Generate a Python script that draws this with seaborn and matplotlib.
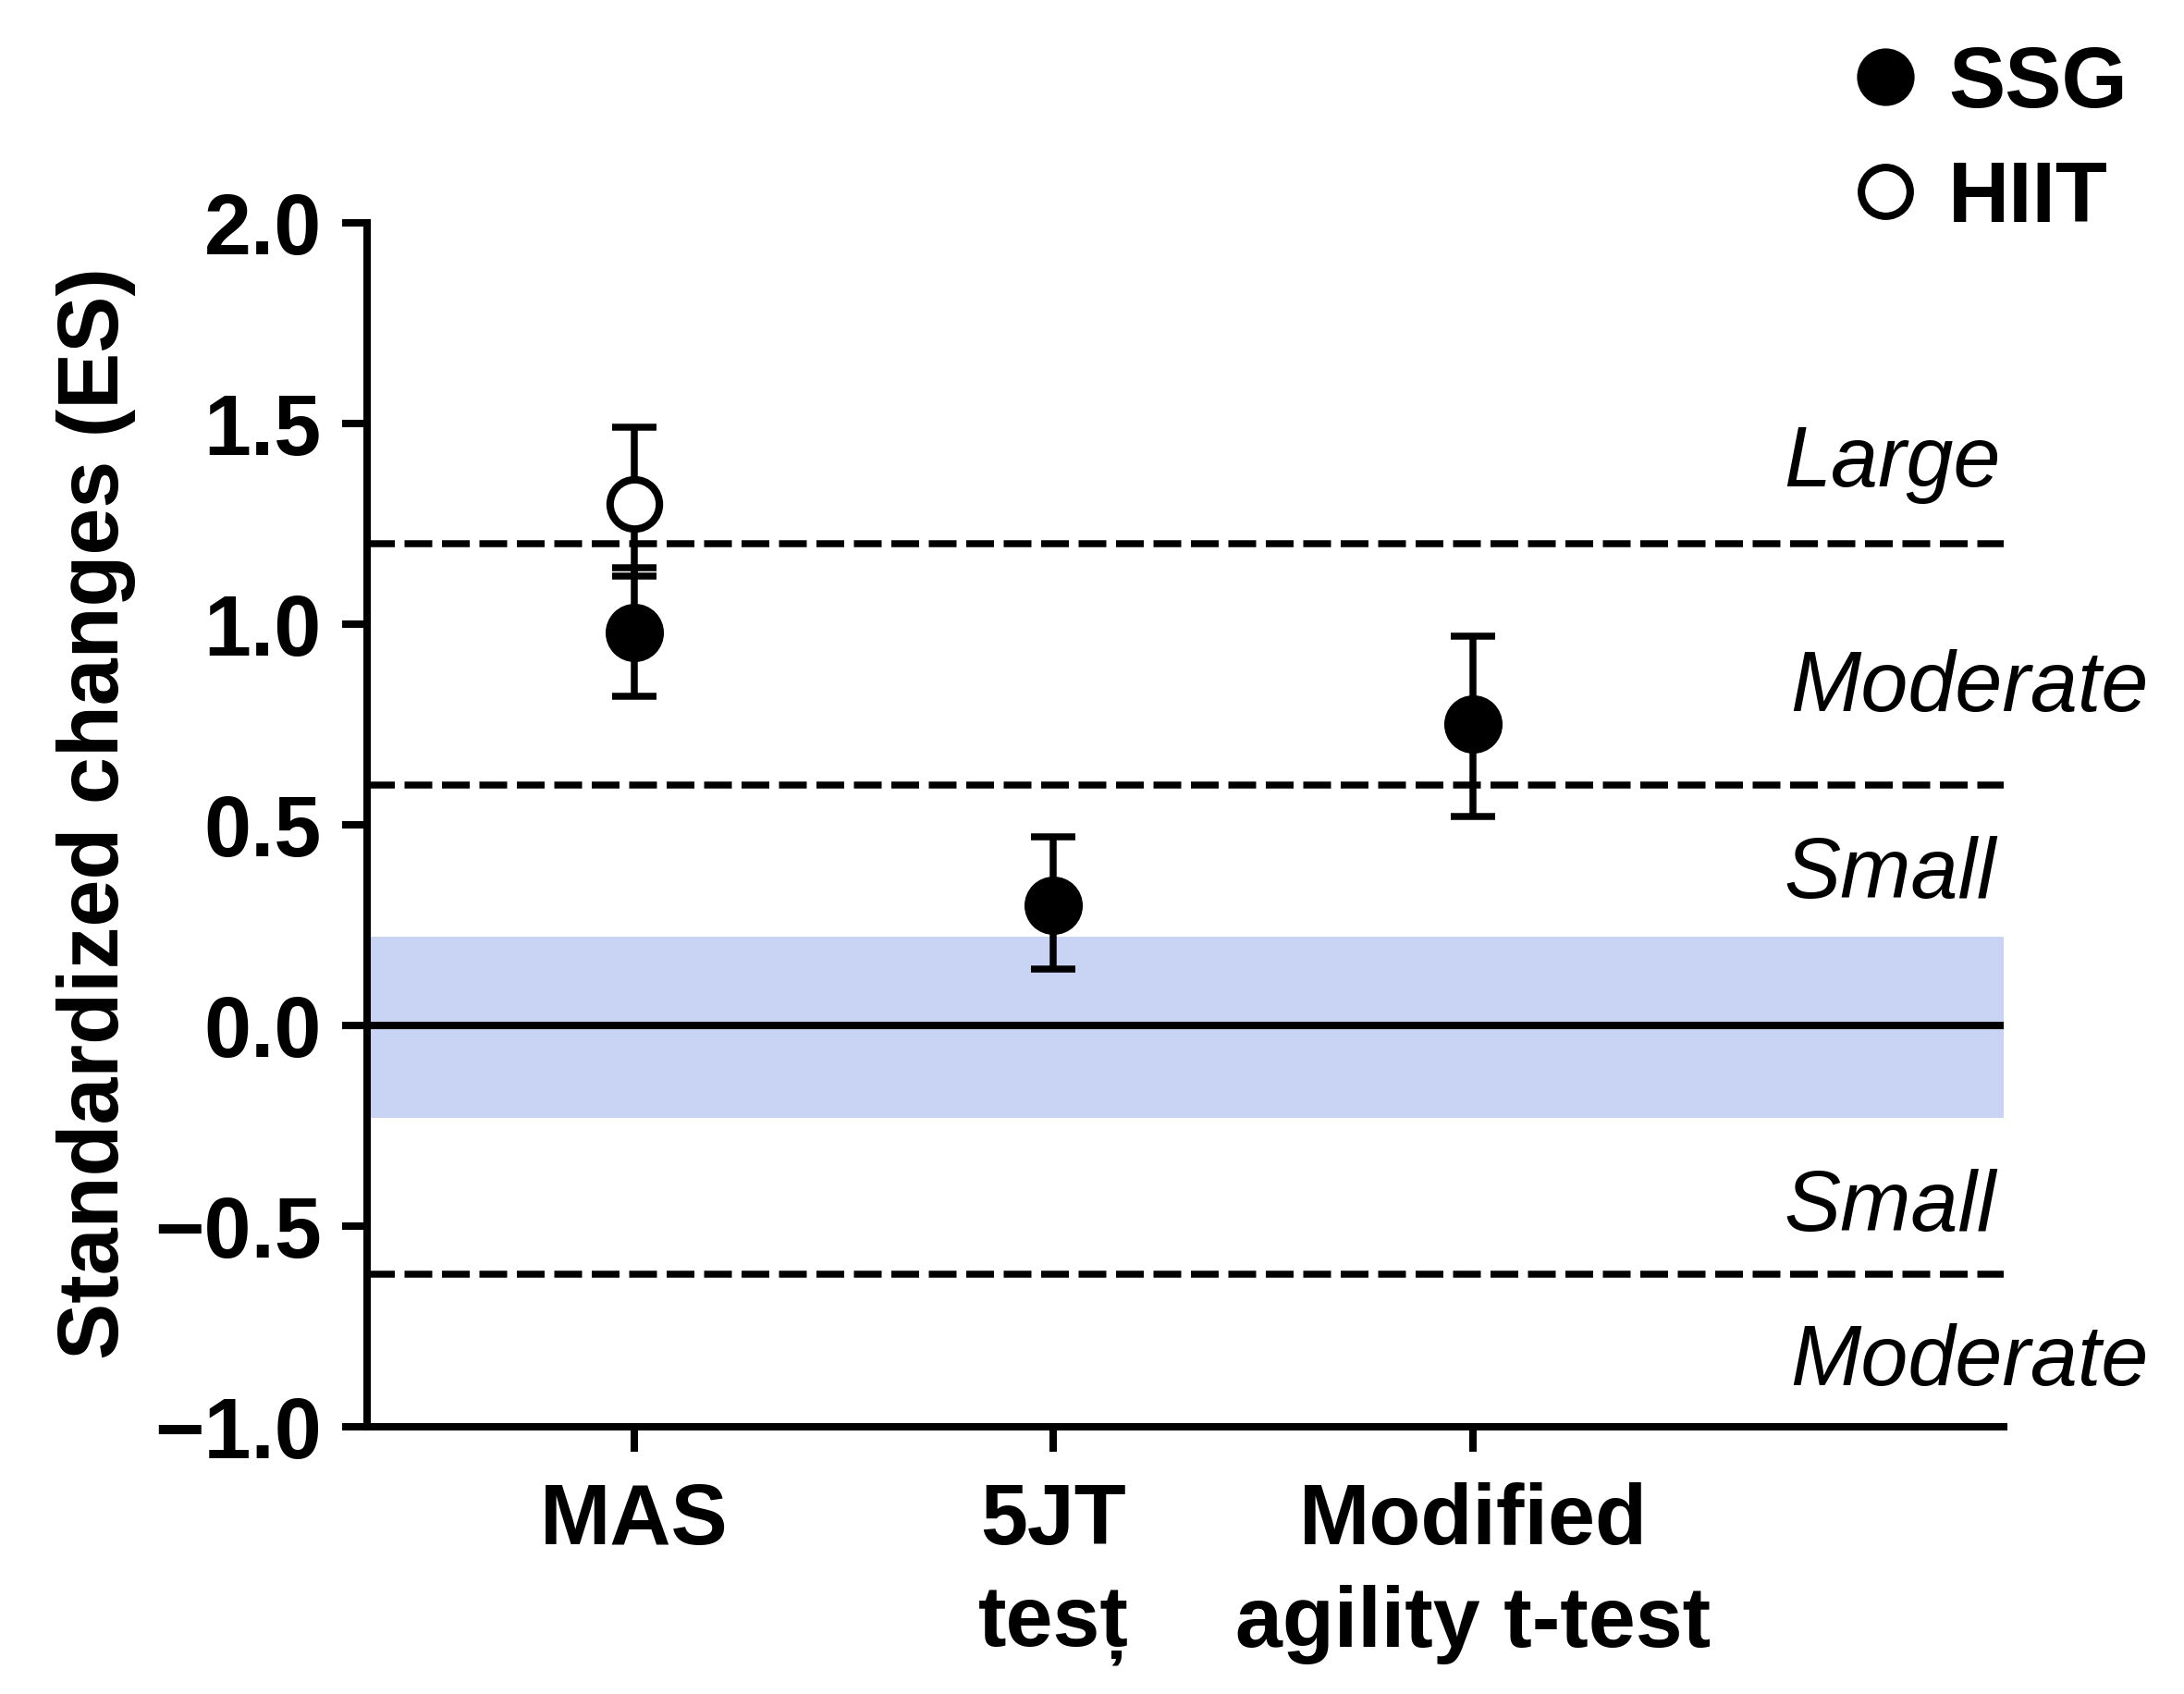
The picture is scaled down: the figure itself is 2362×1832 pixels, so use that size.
import numpy as np
import pandas as pd
import matplotlib
matplotlib.use('Agg')
import matplotlib.pyplot as plt
import seaborn as sns
from matplotlib.lines import Line2D

# data
tests = ['MAS', '5JT\ntesț', 'Modified\nagility t-test']
ssg_es = [0.98, 0.30, 0.75]
ssg_lo = [0.82, 0.14, 0.52]
ssg_hi = [1.14, 0.47, 0.97]

hiit_tests = ['MAS']
hiit_es = [1.30]
hiit_lo = [1.12]
hiit_hi = [1.49]

thresholds = [1.2, 0.6, -0.62]
trivial_band = [-0.23, 0.22]
zone_labels = ['Large', 'Moderate', 'Small', 'Small', 'Moderate']
zone_label_y = [1.40, 0.84, 0.375, -0.455, -0.84]
zone_label_x = [2.74, 2.755, 2.74, 2.74, 2.755]

ssg_df = pd.DataFrame({'test': tests, 'es': ssg_es, 'lo': ssg_lo, 'hi': ssg_hi})
hiit_df = pd.DataFrame({'test': hiit_tests, 'es': hiit_es, 'lo': hiit_lo, 'hi': hiit_hi})

sns.set_theme(style='ticks')
plt.rcParams['font.family'] = ['Liberation Sans', 'DejaVu Sans']
plt.rcParams.update({
    'text.color': 'black',
    'axes.labelcolor': 'black',
    'axes.edgecolor': 'black',
    'xtick.color': 'black',
    'ytick.color': 'black',
})

fig, ax = plt.subplots(figsize=(11.81, 9.165), dpi=200)
fig.subplots_adjust(left=0.168, right=0.9175, bottom=0.1577, top=0.868)

lw = 2.9

# background band and reference lines
ax.axhspan(trivial_band[0], trivial_band[1], color='#c9d3f4', lw=0, zorder=0)
for y in thresholds:
    ax.axhline(y, color='black', lw=2.7, ls=(0, (4.0, 1.4)), zorder=1)
ax.axhline(0, color='black', lw=lw, zorder=1)

# error bars
for df in (ssg_df, hiit_df):
    ax.errorbar(df['test'], df['es'], yerr=[df['es'] - df['lo'], df['hi'] - df['es']],
                fmt='none', ecolor='black', elinewidth=2.7, capsize=8.5, capthick=2.7,
                zorder=2)

# points
sns.scatterplot(data=ssg_df, x='test', y='es', color='black', edgecolor='black',
                s=19.8 ** 2, linewidth=lw, ax=ax, zorder=3, legend=False)
sns.scatterplot(data=hiit_df, x='test', y='es', color='white', edgecolor='black',
                s=19.2 ** 2, linewidth=lw, ax=ax, zorder=4, legend=False)

ax.set_xlim(-0.636, 3.264)
ax.set_ylim(-1.0, 2.0)
ax.set_yticks(np.arange(-1.0, 2.01, 0.5))
ax.set_xlabel('')
ax.set_ylabel('Standardized changes (ES)', fontsize=33, fontweight='bold')
ax.yaxis.set_label_coords(-0.141, 0.51)

sns.despine(ax=ax)
for s in ['left', 'bottom']:
    ax.spines[s].set_linewidth(lw)
ax.tick_params(axis='y', width=lw, length=9.7, pad=8, labelsize=33)
ax.tick_params(axis='x', width=lw, length=9.7, pad=11.5, labelsize=33)
plt.setp(ax.get_yticklabels(), fontweight='bold')
plt.setp(ax.get_xticklabels(), fontweight='bold', linespacing=1.37)

# effect size zone labels
for lab, x, y in zip(zone_labels, zone_label_x, zone_label_y):
    ax.text(x, y, lab, ha='left', va='center', style='italic', fontsize=33,
            clip_on=False)

handles = [
    Line2D([], [], marker='o', ls='none', color='black', mfc='black', mec='black',
           markersize=19.5, mew=lw),
    Line2D([], [], marker='o', ls='none', color='black', mfc='white', mec='black',
           markersize=19.0, mew=lw),
]
fig.legend(handles, ['SSG', 'HIIT'], loc='upper left', bbox_to_anchor=(0.8285, 0.998),
           frameon=False, prop={'weight': 'bold', 'size': 33}, handlelength=0.8,
           handletextpad=0.34, labelspacing=0.41, borderpad=0)

fig.savefig('out.png', dpi=200)
